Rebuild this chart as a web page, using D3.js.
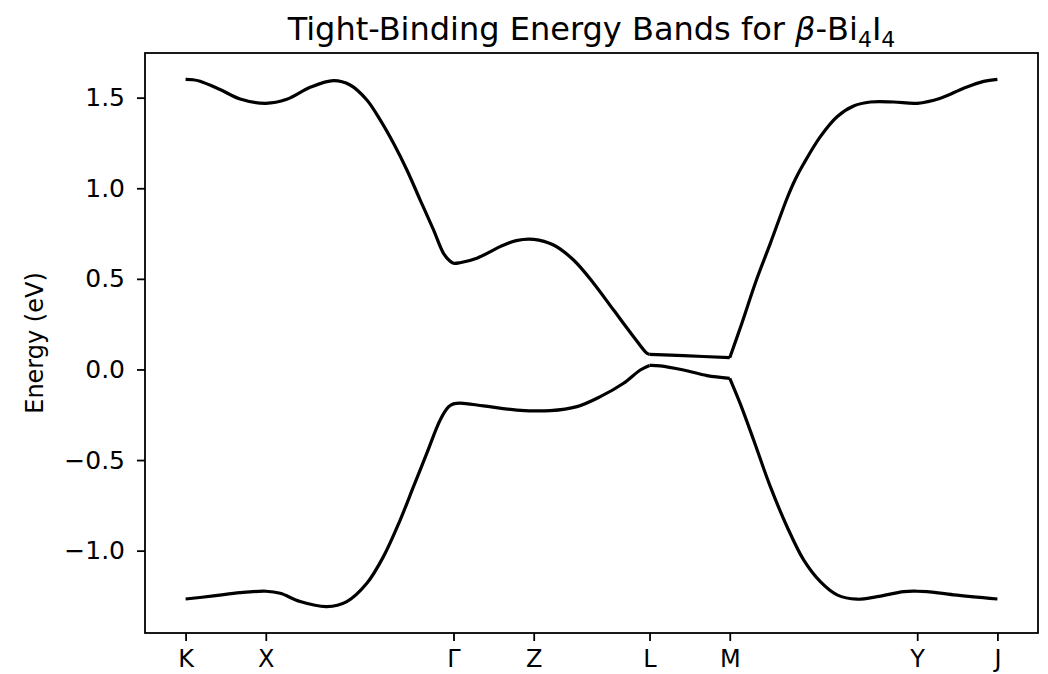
<!DOCTYPE html>
<html><head><meta charset="utf-8">
<script src="https://cdn.jsdelivr.net/npm/d3@7"></script>
<style>
body{margin:0;background:#fff}
text{font-family:"DejaVu Sans",sans-serif;fill:#000}
</style>
</head><body>
<svg id="c" width="1048" height="674"></svg>
<script>
// High-symmetry path labels and their positions along the k-path (fraction of path length)
const tickLabels = ["K","X","Γ","Z","L","M","Y","J"];
const tickPositions = [0, 0.0988, 0.330, 0.4288, 0.5715, 0.6703, 0.9012, 1.0];
const yTicks = [-1.0, -0.5, 0.0, 0.5, 1.0, 1.5];
// points where the bands have kinks (L and M)
const breakK = [0.5715, 0.6703];

// Conduction (upper) band
const kUpper = [0,0.0090,0.0179,0.0425,0.0672,0.0988,0.1247,0.1534,0.1821,0.2027,0.2233,0.2397,0.2561,0.2726,0.2890,0.3054,0.3177,0.3259,0.330,0.338,0.3588,0.3876,0.4073,0.4288,0.4532,0.4779,0.5025,0.5272,0.5518,0.5683,0.5715,0.6134,0.6703,0.6833,0.7039,0.7203,0.7409,0.7511,0.7613,0.7819,0.8025,0.8229,0.8435,0.8722,0.9012,0.9298,0.9585,0.9831,1.0];
const eUpper = [1.601,1.599,1.591,1.545,1.493,1.469,1.491,1.557,1.594,1.570,1.487,1.377,1.248,1.101,0.935,0.770,0.641,0.597,0.586,0.589,0.614,0.678,0.711,0.718,0.687,0.604,0.476,0.328,0.181,0.089,0.083,0.076,0.065,0.23,0.503,0.696,0.945,1.050,1.135,1.285,1.395,1.454,1.476,1.476,1.469,1.497,1.552,1.590,1.601];

// Valence (lower) band
const kLower = [0,0.0343,0.0672,0.0988,0.1165,0.1411,0.1740,0.1986,0.2233,0.2437,0.2643,0.2807,0.2972,0.3136,0.3238,0.330,0.3383,0.3670,0.4081,0.4492,0.4821,0.5108,0.5395,0.5601,0.5715,0.5847,0.6134,0.6423,0.6703,0.6833,0.6997,0.7203,0.7409,0.7613,0.7819,0.8025,0.8271,0.8518,0.8846,0.9012,0.9134,0.9461,1.0];
const eLower = [-1.267,-1.250,-1.232,-1.224,-1.235,-1.281,-1.309,-1.281,-1.180,-1.033,-0.831,-0.647,-0.462,-0.279,-0.207,-0.190,-0.186,-0.201,-0.224,-0.227,-0.205,-0.150,-0.076,-0.003,0.022,0.020,-0.003,-0.034,-0.049,-0.190,-0.389,-0.647,-0.868,-1.051,-1.171,-1.244,-1.268,-1.254,-1.226,-1.224,-1.226,-1.244,-1.267];

const W = 1048, H = 674;
const m = {left:145, right:1038, top:53, bottom:633};
const svg = d3.select("#c");

const kMin = d3.min(tickPositions), kMax = d3.max(tickPositions);
const kPad = (kMax - kMin) * 0.05;
const eMin = Math.min(d3.min(eUpper), d3.min(eLower));
const eMax = Math.max(d3.max(eUpper), d3.max(eLower));
const ePad = (eMax - eMin) * 0.05;

const x = d3.scaleLinear().domain([kMin - kPad, kMax + kPad]).range([m.left, m.right]);
const y = d3.scaleLinear().domain([eMin - ePad, eMax + ePad]).range([m.bottom, m.top]);

function segments(ks, es) {
  const segs = []; let cur = [];
  ks.forEach((k, i) => {
    cur.push([k, es[i]]);
    if (breakK.some(b => Math.abs(b - k) < 1e-6) && i > 0 && i < ks.length - 1) {
      segs.push(cur); cur = [[k, es[i]]];
    }
  });
  segs.push(cur);
  return segs;
}

const line = d3.line().x(d => x(d[0])).y(d => y(d[1])).curve(d3.curveCatmullRom.alpha(0.5));

const g = svg.append("g");
[[kUpper, eUpper], [kLower, eLower]].forEach(([ks, es]) => {
  segments(ks, es).forEach(seg => {
    g.append("path").attr("d", line(seg))
      .attr("fill", "none").attr("stroke", "#000")
      .attr("stroke-width", 3.2).attr("stroke-linejoin", "round").attr("stroke-linecap", "butt");
  });
});

// axes
const xAxis = d3.axisBottom(x).tickValues(tickPositions)
  .tickFormat((d, i) => tickLabels[i]).tickSize(8).tickPadding(9);
const yAxis = d3.axisLeft(y).tickValues(yTicks)
  .tickFormat(d3.format(".1f")).tickSize(8).tickPadding(12);

const gx = svg.append("g").attr("transform", `translate(0,${m.bottom})`).call(xAxis);
const gy = svg.append("g").attr("transform", `translate(${m.left},0)`).call(yAxis);
[gx, gy].forEach(a => {
  a.select(".domain").remove();
  a.selectAll(".tick line").attr("stroke", "#000").attr("stroke-width", 1.8);
  a.selectAll(".tick text").style("font-family", "DejaVu Sans").attr("fill", "#000");
});
gx.selectAll(".tick text").style("font-size", "24px");
gy.selectAll(".tick text").style("font-size", "25px");

// spines
svg.append("rect").attr("x", m.left).attr("y", m.top)
  .attr("width", m.right - m.left).attr("height", m.bottom - m.top)
  .attr("fill", "none").attr("stroke", "#000").attr("stroke-width", 1.8);

// y label
svg.append("text")
  .attr("transform", `translate(43,${(m.top + m.bottom) / 2}) rotate(-90)`)
  .attr("text-anchor", "middle").style("font-size", "24px")
  .text("Energy (eV)");

// title
const t = svg.append("text").attr("x", (m.left + m.right) / 2).attr("y", 40)
  .attr("text-anchor", "middle").style("font-size", "32px");
t.append("tspan").text("Tight-Binding Energy Bands for ");
t.append("tspan").style("font-style", "italic").text("β");
t.append("tspan").text("-Bi");
t.append("tspan").attr("dy", 7).style("font-size", "22px").text("4");
t.append("tspan").attr("dy", -7).text("I");
t.append("tspan").attr("dy", 7).style("font-size", "22px").text("4");
</script>
</body></html>
